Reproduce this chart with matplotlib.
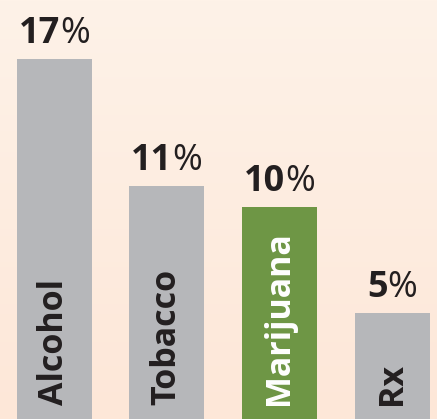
import numpy as np
import matplotlib
matplotlib.use("Agg")
import matplotlib.pyplot as plt
from matplotlib.offsetbox import TextArea, HPacker, AnnotationBbox

categories = ["Alcohol", "Tobacco", "Marijuana", "Rx"]
values = [17, 11, 10, 5]
bar_colors = ["#B6B7BA", "#B6B7BA", "#6E9645", "#B6B7BA"]
label_colors = ["#231F20", "#231F20", "#FFFFFF", "#231F20"]

W, H = 437, 419
fig = plt.figure(figsize=(W / 100, H / 100), dpi=100)
ax = fig.add_axes([0, 0, 1, 1])

x = np.arange(len(categories))
spacing = 112.67
x0 = 54.0
ax.set_xlim(-x0 / spacing, (W - x0) / spacing)
ppu = 21.2
ax.set_ylim(0, H / ppu)

# background gradient
top = np.array([254, 242, 232]) / 255
bot = np.array([253, 231, 216]) / 255
t = np.linspace(0, 1, 256)[:, None]
grad = (top[None, :] * (1 - t) + bot[None, :] * t)[:, None, :]
ax.imshow(grad, extent=[ax.get_xlim()[0], ax.get_xlim()[1], 0, H / ppu],
          aspect="auto", zorder=0, origin="upper")

ax.bar(x, values, width=75 / spacing, color=bar_colors, zorder=2)

font = "Open Sans"
for xi, v, cat, lc in zip(x, values, categories, label_colors):
    num = TextArea(str(v), textprops=dict(fontfamily=font, fontweight="bold",
                                          fontsize=26, color="#231F20"))
    pct = TextArea("%", textprops=dict(fontfamily=font, fontweight="normal",
                                       fontsize=26, color="#231F20"))
    box = HPacker(children=[num, pct], align="baseline", pad=0, sep=0)
    ab = AnnotationBbox(box, (xi, v), xybox=(0, 5), xycoords="data",
                        boxcoords="offset points", box_alignment=(0.5, 0),
                        frameon=False, zorder=3)
    ax.add_artist(ab)
    ax.text(xi, 14 / ppu, cat, rotation=90, ha="center", va="bottom",
            fontfamily=font, fontweight="bold", fontsize=24.5, color=lc, zorder=3)

ax.axis("off")
fig.savefig("out.png", dpi=100)
